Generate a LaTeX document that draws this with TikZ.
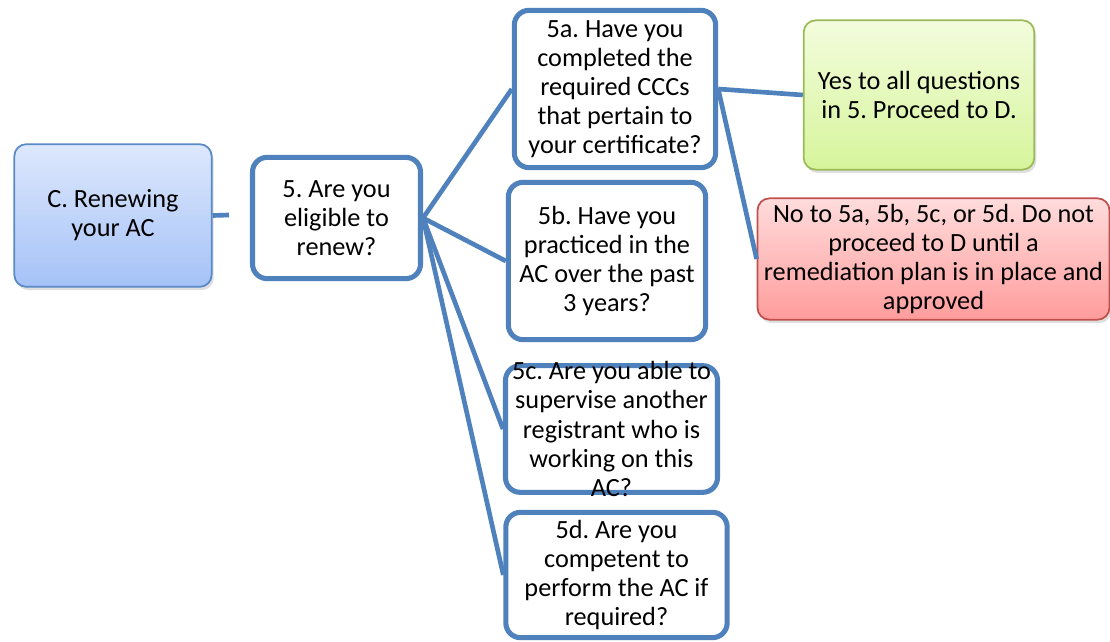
\documentclass[tikz,border=0pt]{standalone}
\usepackage{fontspec}
\setmainfont{Carlito}
\usetikzlibrary{shadows}
\frenchspacing
\definecolor{qblue}{HTML}{4F81BD}
\definecolor{cborder}{HTML}{5A8AC6}
\definecolor{ctop}{HTML}{DDE8FD}
\definecolor{cbot}{HTML}{A5C2F7}
\definecolor{ytop}{HTML}{F3FCDD}
\definecolor{ybot}{HTML}{D6F59B}
\definecolor{yborder}{HTML}{9BBB59}
\definecolor{ntop}{HTML}{FFDCDC}
\definecolor{nbot}{HTML}{FF9C9C}
\definecolor{nborder}{HTML}{C0504D}
\tikzset{
  qbox/.style={draw=qblue, line width=3.8pt, fill=white, rounded corners=11pt, align=center, inner sep=0pt},
  sbox/.style={line width=1.3pt, rounded corners=9pt, align=center, inner sep=0pt,
    drop shadow={opacity=.25, shadow xshift=1.5pt, shadow yshift=-2.5pt}},
  link/.style={draw=qblue, line width=3.5pt}
}
\begin{document}
\begin{tikzpicture}[x=.75pt, y=-.75pt, font=\fontsize{19.7}{21.8}\selectfont]
    \useasboundingbox (0,0) rectangle (1110,642);
    % left part
    \node[sbox, draw=cborder, top color=ctop, bottom color=cbot, minimum width=148pt, minimum height=107pt] (renew) at (113,215.5) {C. Renewing\\your AC};
    \coordinate (stub) at (229,215);
    \node[qbox, minimum width=126pt, minimum height=91pt] (q5) at (336.5,218) {5. Are you\\eligible to\\renew?};
    % questions 5a-5d
    \node[qbox, minimum width=151pt, minimum height=118pt] (q5a) at (615,89) {5a. Have you\\completed the\\required CCCs\\that pertain to\\your certificate?};
    \node[qbox, minimum width=148pt, minimum height=118pt] (q5b) at (607,261) {5b. Have you\\practiced in the\\AC over the past\\3 years?};
    \node[qbox, minimum width=159pt, minimum height=95pt] (q5c) at (611.5,429) {};
    \node[align=center, inner sep=0pt] at (q5c) {5c. Are you able to\\supervise another\\registrant who is\\working on this\\AC?};
    \node[qbox, minimum width=166pt, minimum height=94pt] (q5d) at (616.5,575) {5d. Are you\\competent to\\perform the AC if\\required?};
    % answers
    \node[sbox, draw=yborder, top color=ytop, bottom color=ybot, minimum width=173pt, minimum height=112pt] (yes) at (919,95) {Yes to all questions\\in 5. Proceed to D.};
    \node[sbox, draw=nborder, top color=ntop, bottom color=nbot, minimum width=264pt, minimum height=91pt] (no) at (933.5,259) {No to 5a, 5b, 5c, or 5d. Do not\\proceed to D until a\\remediation plan is in place and\\approved};
    % connectors
    \draw[link] (renew.east) -- (stub);
    \foreach \q in {q5a, q5b, q5c, q5d}{\draw[link] (q5.east) -- (\q.west);}
    \draw[link] (q5a.east) -- (yes.west);
    \draw[link] (q5a.east) -- (no.west);
\end{tikzpicture}
\end{document}
